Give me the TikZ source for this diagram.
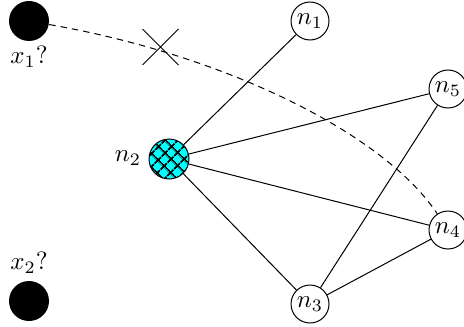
\documentclass[tikz,border=0pt]{standalone}
\usetikzlibrary{patterns.meta,shapes.misc}
\definecolor{hubcyan}{RGB}{0,255,255}
\begin{document}
\begin{tikzpicture}[x=0.4pt,y=-0.4pt,
  vert/.style={circle,draw,fill=white,minimum size=15.2pt,inner sep=0pt},
  blob/.style={circle,fill=black,minimum size=16pt,inner sep=0pt},
  hub/.style={circle,draw,fill=hubcyan,minimum size=16pt,inner sep=0pt,
     postaction={pattern={Hatch[angle=45,distance=4pt,line width=0.8pt]},pattern color=black}},
  edge/.style={draw,line width=0.4pt},
  guess/.style={draw,dash pattern=on 2.6pt off 2pt}]
\useasboundingbox (0,0) rectangle (464,326);
\node[blob] (x1) at (29,21) {};
\node[blob] (x2) at (29,301) {};
\node (lx1) at (29,57) {$x_1?$};
\node (lx2) at (29,263) {$x_2?$};
\node[vert] (n1) at (310,21) {$n_1$};
\node[hub] (n2) at (169,159) {};
\node (ln2) at (128,158) {$n_2$};
\node[vert] (n3) at (310,304) {$n_3$};
\node[vert] (n4) at (448,230) {$n_4$};
\node[vert] (n5) at (448,89) {$n_5$};
\node[cross out,draw,minimum size=14pt,inner sep=0pt] (cx) at (160.5,47) {};
\path[edge] (n2) -- (n1);
\path[edge] (n2) -- (n5);
\path[edge] (n2) -- (n4);
\path[edge] (n2) -- (n3);
\path[edge] (n3) -- (n5);
\path[edge] (n3) -- (n4);
\path[guess] (x1) .. controls (229,56) and (385,135) .. (n4);
\end{tikzpicture}
\end{document}
